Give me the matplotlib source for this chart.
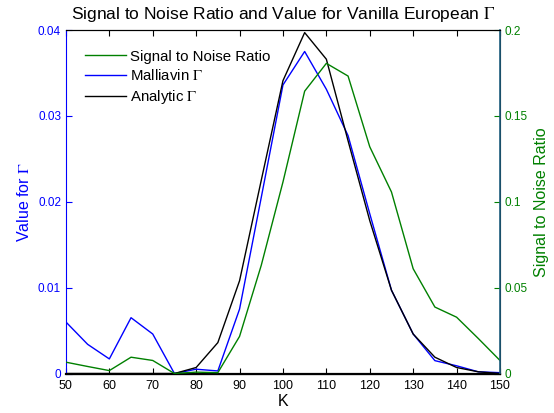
from matplotlib import pyplot as plt

# data
strikes = [50, 55, 60, 65, 70, 75, 80, 85, 90, 95, 100, 105, 110, 115, 120, 125, 130, 135, 140, 145, 150]
malliavin = [0.0060, 0.0034, 0.0017, 0.0065, 0.0046, 0.0000, 0.0005, 0.0003, 0.0075, 0.0205, 0.0336,
             0.0375, 0.0331, 0.0277, 0.0186, 0.0097, 0.0046, 0.0015, 0.0009, 0.0002, 0.0001]
analytic = [0.0, 0.0, 0.0, 0.0, 0.0, 0.0000, 0.0007, 0.0036, 0.0108, 0.0225, 0.0341,
            0.0397, 0.0366, 0.0271, 0.0178, 0.0097, 0.0046, 0.0019, 0.0007, 0.0002, 0.0000]
snr = [0.0066, 0.0041, 0.0017, 0.0095, 0.0076, 0.0000, 0.0008, 0.0005, 0.0216, 0.0630, 0.1115,
       0.1644, 0.1806, 0.1732, 0.1320, 0.1057, 0.0610, 0.0387, 0.0328, 0.0204, 0.0076]

left_ticks = [0, 0.01, 0.02, 0.03, 0.04]
right_ticks = [0, 0.05, 0.1, 0.15, 0.2]
x_ticks = list(range(50, 151, 10))

plt.rcParams['font.family'] = ['Liberation Sans', 'DejaVu Sans']
plt.rcParams['mathtext.fontset'] = 'stix'

green = '#008000'
blue = '#0000ff'

fig = plt.figure(figsize=(5.54, 4.13), dpi=100)
ax = fig.add_axes([0.119, 0.0956, 0.7835, 0.8317])
ax2 = ax.twinx()

l1, = ax.plot(strikes, malliavin, color=blue, lw=1.0)
l2, = ax.plot(strikes, analytic, color='black', lw=1.0)
l0, = ax2.plot(strikes, snr, color=green, lw=1.0)

ax.set_xlim(50, 150)
ax.set_ylim(0, 0.04)
ax2.set_ylim(0, 0.2)
ax.set_xticks(x_ticks)
ax.set_xticklabels([str(t) for t in x_ticks])
ax.set_yticks(left_ticks)
ax.set_yticklabels(['0', '0.01', '0.02', '0.03', '0.04'])
ax2.set_yticks(right_ticks)
ax2.set_yticklabels(['0', '0.05', '0.1', '0.15', '0.2'])

ax.tick_params(axis='x', direction='in', top=True, length=4, labelsize=9, colors='black', pad=5)
ax.tick_params(axis='y', direction='in', length=4, labelsize=8.5, colors=blue)
ax2.tick_params(axis='y', direction='in', length=4, labelsize=8.5, colors=green)

ax.spines['left'].set_color(blue)
ax.spines['bottom'].set_linewidth(1.6)
ax2.spines['right'].set_color('#1f5f7f')
ax2.spines['right'].set_linewidth(1.2)
ax2.spines['left'].set_visible(False)

ax.set_xlabel('K', fontsize=11.5, labelpad=1)
ax.set_ylabel(r'Value for $\Gamma$', fontsize=11.5, color=blue)
ax2.set_ylabel('Signal to Noise Ratio', fontsize=11.5, color=green)
ax.set_title(r'Signal to Noise Ratio and Value for Vanilla European $\Gamma$', fontsize=12.5, pad=8)

ax2.legend([l0, l1, l2], ['Signal to Noise Ratio', r'Malliavin $\Gamma$', r'Analytic $\Gamma$'],
           loc='upper left', frameon=False, fontsize=10.8, handlelength=2.7,
           borderaxespad=0.9, labelspacing=0.33, handletextpad=0.3)

fig.savefig('out.png', dpi=100)
